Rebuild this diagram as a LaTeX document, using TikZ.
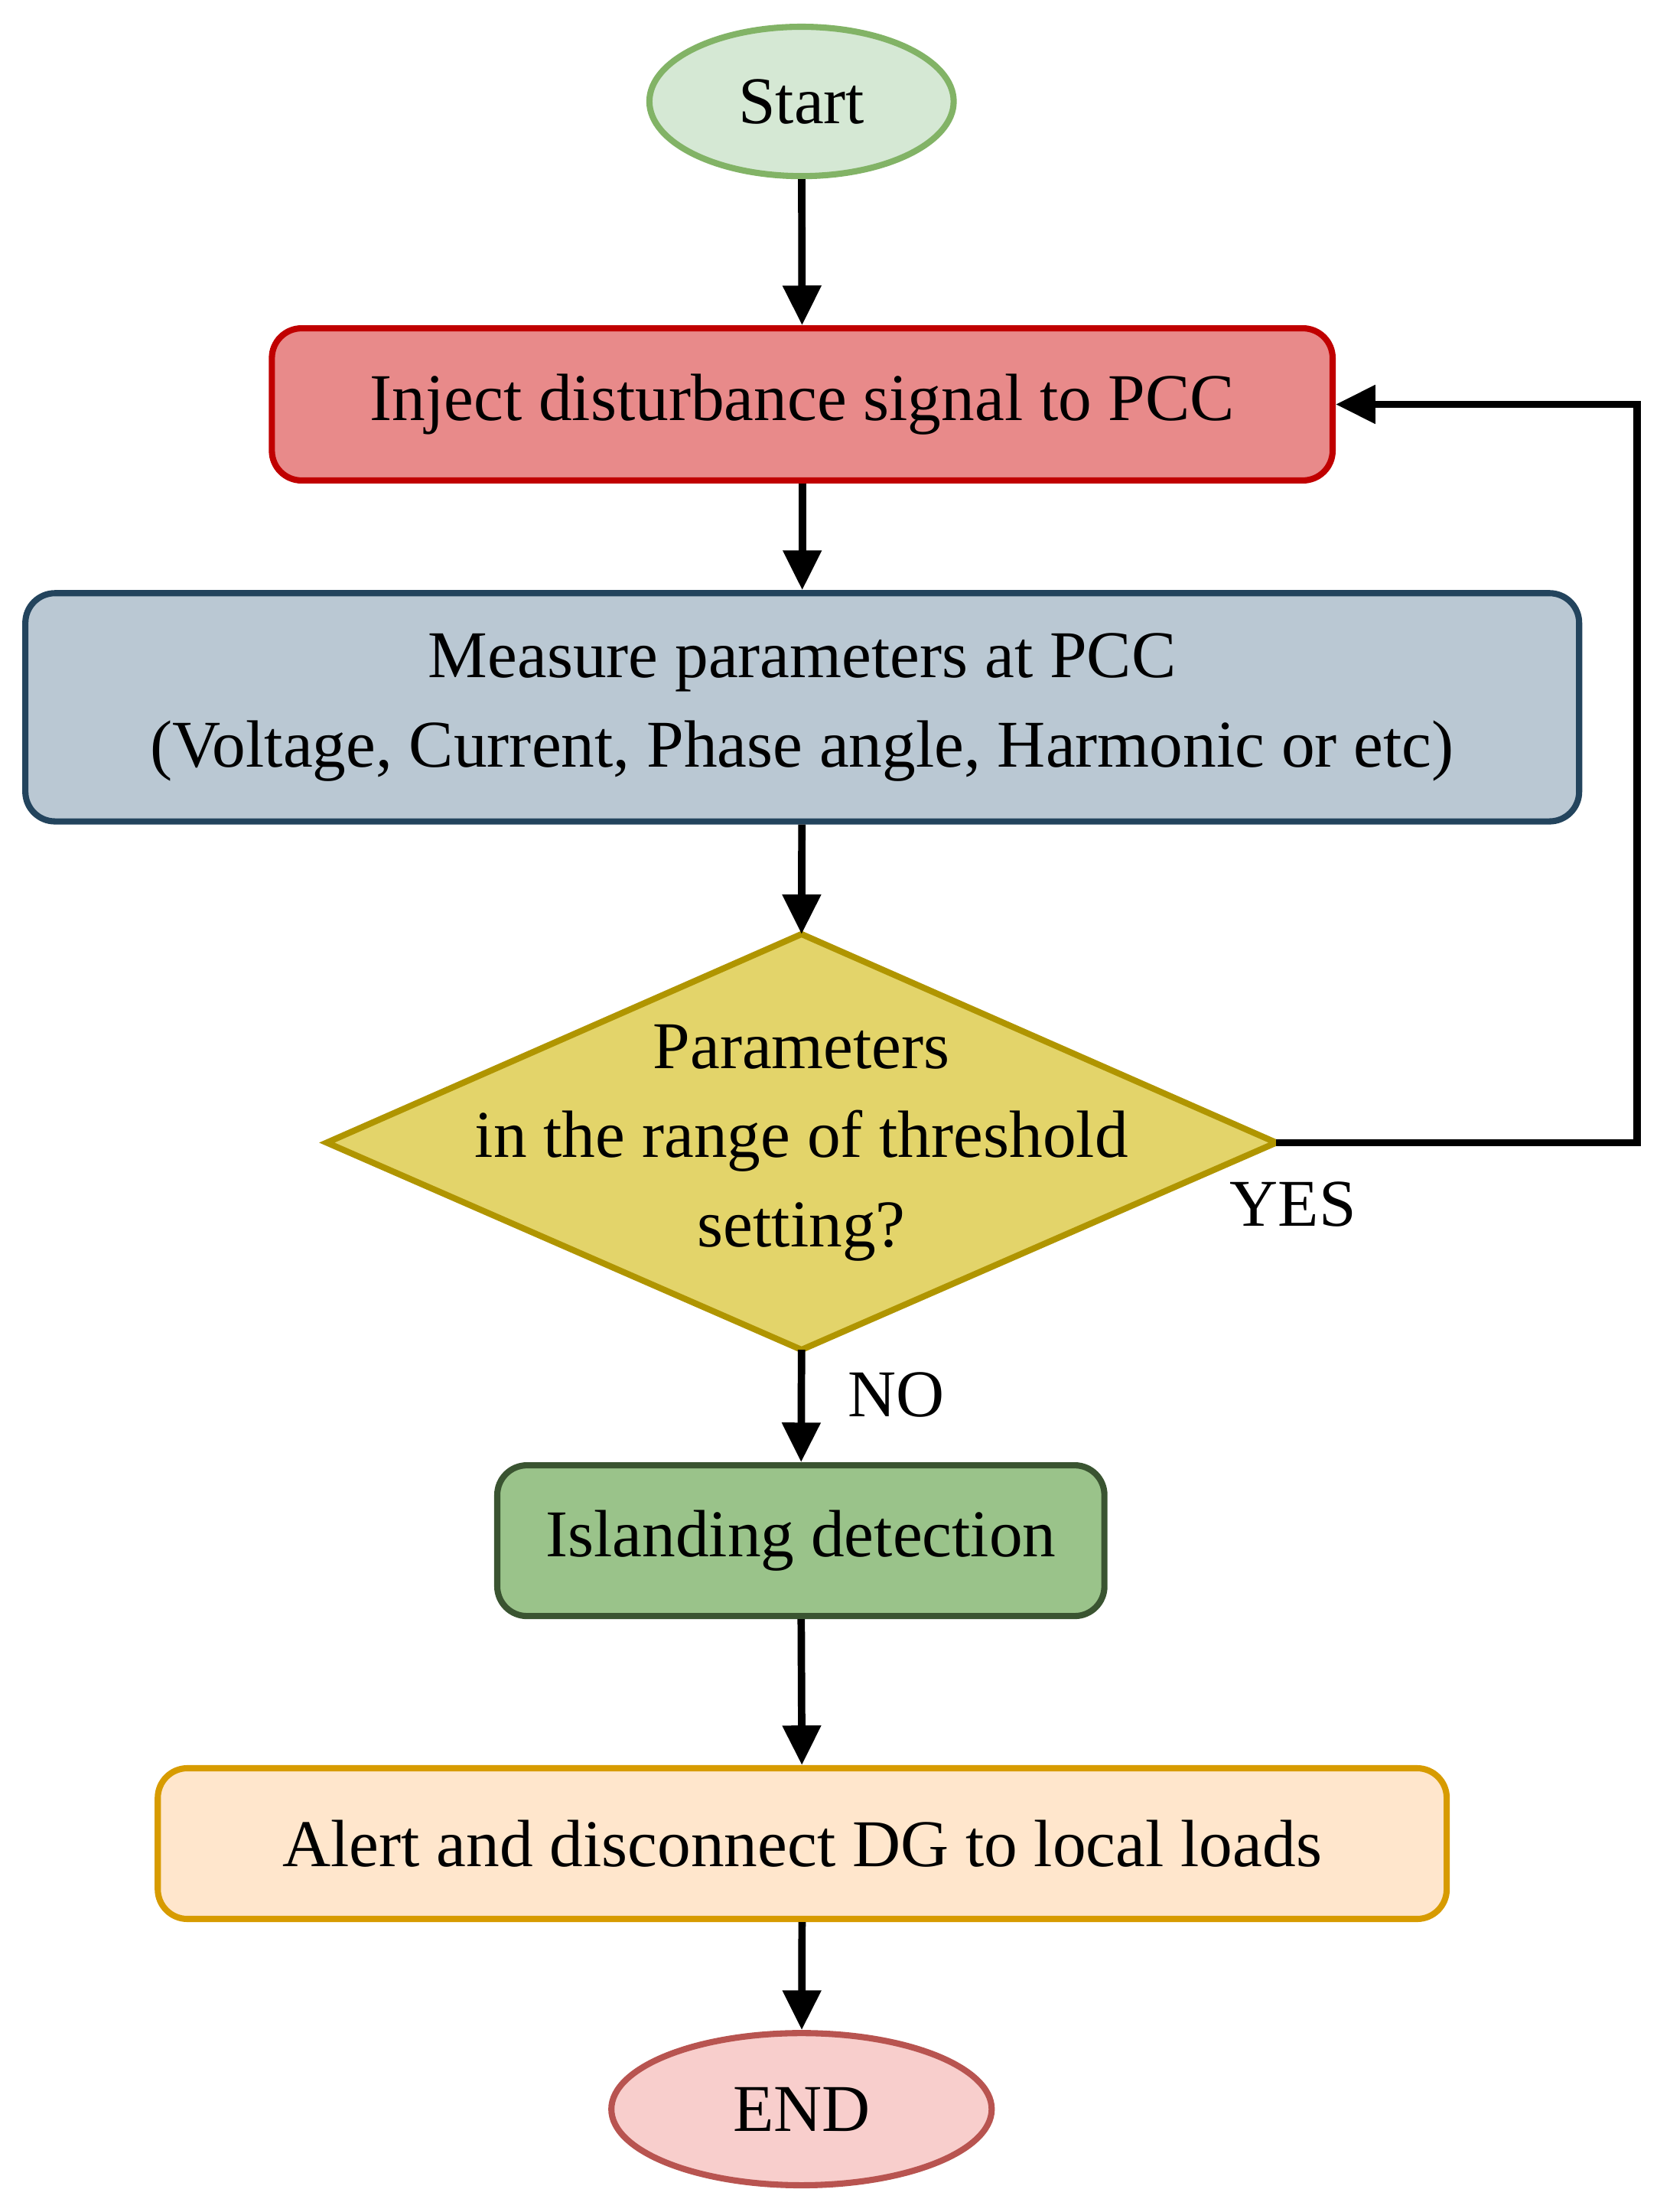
\documentclass[tikz,border=0pt]{standalone}
\usepackage{fontspec}
\setmainfont{Liberation Serif}
\usetikzlibrary{shapes.geometric,arrows.meta}
\definecolor{gF}{HTML}{D5E8D4}\definecolor{gS}{HTML}{82B366}
\definecolor{rF}{HTML}{E88A8A}\definecolor{rS}{HTML}{C00000}
\definecolor{bF}{HTML}{BAC8D3}\definecolor{bS}{HTML}{23445D}
\definecolor{yF}{HTML}{E3D46A}\definecolor{yS}{HTML}{B09500}
\definecolor{dF}{HTML}{9AC38A}\definecolor{dS}{HTML}{3A5431}
\definecolor{oF}{HTML}{FFE6CC}\definecolor{oS}{HTML}{D79B00}
\definecolor{eF}{HTML}{F8CECC}\definecolor{eS}{HTML}{B85450}
\begin{document}
\begin{tikzpicture}[x=0.02cm,y=-0.02cm,
 every node/.style={font=\fontsize{27}{36}\selectfont, align=center, line width=2.5pt, inner sep=0pt},
 box/.style={draw, rounded corners=12pt},
 arr/.style={line width=3pt, -{Triangle[length=16pt,width=15pt]}}]
\useasboundingbox (0,0) rectangle (1185,1570);
\node[ellipse,draw=gS,fill=gF,minimum width=216*0.02cm,minimum height=106*0.02cm] (s) at (569,72) {Start};
\node[box,draw=rS,fill=rF,minimum width=753*0.02cm,minimum height=108*0.02cm] (inj) at (569.5,287) {Inject disturbance signal to PCC};
\node[box,draw=bS,fill=bF,minimum width=1103*0.02cm,minimum height=162*0.02cm] (meas) at (569.5,502) {Measure parameters at PCC\\(Voltage, Current, Phase angle, Harmonic or etc)};
\draw[draw=yS,fill=yF,line width=2.5pt] (569,663) -- (906,811) -- (569,958) -- (232,811) -- cycle;
\node (dia) at (569,811) {Parameters\\in the range of threshold\\setting?};
\coordinate (dT) at (569,663); \coordinate (dB) at (569,958); \coordinate (dR) at (906,811);
\node[box,draw=dS,fill=dF,minimum width=431*0.02cm,minimum height=107*0.02cm] (isl) at (568.5,1093.5) {Islanding detection};
\node[box,draw=oS,fill=oF,minimum width=915*0.02cm,minimum height=107*0.02cm] (al) at (569.5,1308.5) {Alert and disconnect DG to local loads};
\node[ellipse,draw=eS,fill=eF,minimum width=270*0.02cm,minimum height=108*0.02cm] (e) at (569,1497) {END};
\draw[arr] (s) -- (inj);
\draw[arr] (inj) -- (meas);
\draw[arr] (meas) -- (dT);
\draw[arr] (dB) -- (isl);
\draw[arr] (isl) -- (al);
\draw[arr] (al) -- (e);
\coordinate (c1) at (1162,811); \coordinate (c2) at (1162,287);
\draw[arr] (dR) -- (c1) -- (c2) -- (inj.east);
\node (yes) at (918,855) {YES};
\node (no) at (636,990) {NO};
\end{tikzpicture}
\end{document}
